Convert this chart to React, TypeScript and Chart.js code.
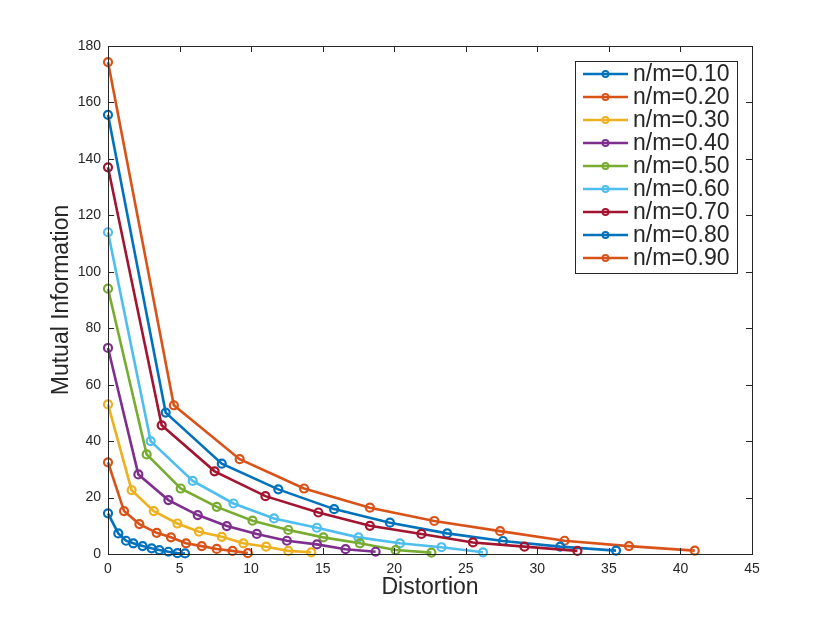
import { useEffect, useRef } from "react";
import { Chart, registerables, type Plugin } from "chart.js";

Chart.register(...registerables);

const labels = ["n/m=0.10", "n/m=0.20", "n/m=0.30", "n/m=0.40", "n/m=0.50", "n/m=0.60", "n/m=0.70", "n/m=0.80", "n/m=0.90"];
const colors = ["#0072BD", "#D95319", "#EDB120", "#7E2F8E", "#77AC30", "#4DBEEE", "#A2142F", "#0072BD", "#D95319"];

// distortion (x) per series
const x10 = [0, 0.72, 1.26, 1.77, 2.42, 3.05, 3.59, 4.22, 4.85, 5.38];
const x20 = [0, 1.12, 2.19, 3.4, 4.4, 5.45, 6.55, 7.6, 8.7, 9.77];
const x30 = [0, 1.65, 3.2, 4.85, 6.36, 7.95, 9.46, 11.05, 12.6, 14.2];
const x40 = [0, 2.12, 4.22, 6.27, 8.3, 10.4, 12.5, 14.6, 16.6, 18.7];
const x50 = [0, 2.7, 5.08, 7.6, 10.1, 12.6, 15.05, 17.6, 20.1, 22.6];
const x60 = [0, 2.98, 5.92, 8.77, 11.6, 14.6, 17.5, 20.4, 23.3, 26.2];
const x70 = [0, 3.75, 7.45, 11.0, 14.7, 18.3, 21.9, 25.5, 29.1, 32.8];
const x80 = [0, 4.03, 7.95, 11.9, 15.8, 19.7, 23.7, 27.6, 31.6, 35.5];
const x90 = [0, 4.6, 9.2, 13.7, 18.3, 22.8, 27.4, 31.9, 36.4, 41.0];

// mutual information (y) per series
const y10 = [14.4, 7.3, 4.7, 3.8, 2.8, 2.0, 1.4, 0.8, 0.3, 0.2];
const y20 = [32.5, 15.2, 10.6, 7.5, 5.9, 3.8, 2.8, 1.8, 1.1, 0.3];
const y30 = [53, 22.6, 15.2, 10.8, 7.9, 6.1, 3.8, 2.6, 1.1, 0.6];
const y40 = [73, 28.2, 19.1, 13.8, 9.9, 7.1, 4.7, 3.4, 1.7, 0.8];
const y50 = [94, 35.3, 23.2, 16.7, 11.8, 8.5, 5.9, 3.8, 1.4, 0.5];
const y60 = [114, 40.0, 25.9, 17.9, 12.6, 9.3, 5.9, 3.8, 2.4, 0.6];
const y70 = [137, 45.6, 29.3, 20.5, 14.7, 10.0, 7.1, 4.1, 2.6, 1.1];
const y80 = [155.6, 50.1, 32.0, 22.9, 15.9, 11.1, 7.3, 4.6, 2.6, 1.2];
const y90 = [174.3, 52.7, 33.6, 23.2, 16.4, 11.7, 8.1, 4.7, 2.8, 1.2];

const xs = [x10, x20, x30, x40, x50, x60, x70, x80, x90];
const ys = [y10, y20, y30, y40, y50, y60, y70, y80, y90];

const FONT = "'Liberation Sans', Arial, Helvetica, sans-serif";
const INK = "#262626";

// MATLAB-style box with inward ticks on all four sides
const boxTicks: Plugin = {
  id: "boxTicks",
  afterDraw(chart) {
    const { ctx, chartArea: a, scales } = chart;
    const len = 6;
    ctx.save();
    ctx.strokeStyle = INK;
    ctx.lineWidth = 1;
    ctx.beginPath();
    scales.x.ticks.forEach((t) => {
      const px = Math.round(scales.x.getPixelForValue(t.value)) + 0.5;
      ctx.moveTo(px, a.bottom);
      ctx.lineTo(px, a.bottom - len);
      ctx.moveTo(px, a.top);
      ctx.lineTo(px, a.top + len);
    });
    scales.y.ticks.forEach((t) => {
      const py = Math.round(scales.y.getPixelForValue(t.value)) + 0.5;
      ctx.moveTo(a.left, py);
      ctx.lineTo(a.left + len, py);
      ctx.moveTo(a.right, py);
      ctx.lineTo(a.right - len, py);
    });
    ctx.stroke();
    ctx.strokeRect(Math.round(a.left) + 0.5, Math.round(a.top) + 0.5, Math.round(a.right - a.left), Math.round(a.bottom - a.top));
    ctx.restore();
  },
};

// boxed legend in the upper right of the axes
const boxLegend: Plugin = {
  id: "boxLegend",
  afterDraw(chart) {
    const { ctx, chartArea: a } = chart;
    const right = a.right - 15;
    const top = a.top + 15;
    const w = 162;
    const rowH = 23;
    const h = rowH * labels.length + 5;
    const left = right - w;
    ctx.save();
    ctx.fillStyle = "#fff";
    ctx.fillRect(left, top, w, h);
    ctx.strokeStyle = INK;
    ctx.lineWidth = 1;
    ctx.strokeRect(Math.round(left) + 0.5, Math.round(top) + 0.5, w, h);
    ctx.font = `23px ${FONT}`;
    ctx.textBaseline = "middle";
    labels.forEach((lab, i) => {
      const cy = top + 13 + i * rowH;
      ctx.strokeStyle = colors[i];
      ctx.lineWidth = 2.5;
      ctx.beginPath();
      ctx.moveTo(left + 8, cy);
      ctx.lineTo(left + 53, cy);
      ctx.stroke();
      ctx.lineWidth = 1.8;
      ctx.beginPath();
      ctx.arc(left + 30.5, cy, 3, 0, Math.PI * 2);
      ctx.stroke();
      ctx.fillStyle = INK;
      ctx.fillText(lab, left + 58, cy + 1);
    });
    ctx.restore();
  },
};

export default function App() {
  const ref = useRef<HTMLCanvasElement>(null);

  useEffect(() => {
    document.body.style.margin = "0";
    if (!ref.current) return;
    const chart = new Chart(ref.current, {
      type: "line",
      data: {
        datasets: labels.map((lab, i) => ({
          label: lab,
          data: xs[i].map((x, j) => ({ x, y: ys[i][j] })),
          borderColor: colors[i],
          backgroundColor: "rgba(0,0,0,0)",
          borderWidth: 2.6,
          pointRadius: 4,
          pointBorderWidth: 2.2,
          pointBorderColor: colors[i],
          pointBackgroundColor: "rgba(0,0,0,0)",
          tension: 0,
          clip: false,
        })),
      },
      options: {
        responsive: false,
        animation: false,
        layout: { padding: { left: 44, top: 46, right: 78, bottom: 18 } },
        plugins: { legend: { display: false }, tooltip: { enabled: false } },
        scales: {
          x: {
            type: "linear",
            min: 0,
            max: 45,
            ticks: { stepSize: 5, color: INK, font: { family: FONT, size: 14 }, padding: 7, maxRotation: 0 },
            grid: { display: false, drawTicks: false },
            border: { display: false },
            title: { display: true, text: "Distortion", color: INK, font: { family: FONT, size: 23 }, padding: { top: 0, bottom: 4 } },
            afterFit: (s) => {
              s.height = 51;
            },
          },
          y: {
            min: 0,
            max: 180,
            ticks: { stepSize: 20, color: INK, font: { family: FONT, size: 14 }, padding: 7 },
            grid: { display: false, drawTicks: false },
            border: { display: false },
            title: { display: true, text: "Mutual Information", color: INK, font: { family: FONT, size: 23 }, padding: { top: 4, bottom: 0 } },
            afterFit: (s) => {
              s.width = 64;
            },
          },
        },
      },
      plugins: [boxTicks, boxLegend],
    });
    return () => chart.destroy();
  }, []);

  return (
    <div style={{ width: 830, height: 623, background: "#fff" }}>
      <canvas ref={ref} width={830} height={623} />
    </div>
  );
}
